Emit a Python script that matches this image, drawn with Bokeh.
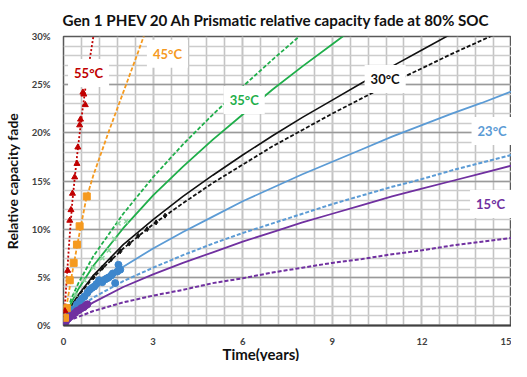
from bokeh.plotting import figure
from bokeh.models import FixedTicker, PrintfTickFormatter, Label, Title
from bokeh.embed import file_html
from bokeh.resources import INLINE

# ---- data (time in years, fade in %) ----
t_model = [0, 0.25, 0.5, 1, 2, 3, 4, 5, 6, 7, 8, 9, 10, 11, 12, 13, 14, 15]

black_solid = [0, 2.0, 3.2, 5.2, 8.4, 11.0, 13.4, 15.6, 17.7, 19.7, 21.6, 23.4, 25.2, 26.9, 28.6, 30.3, 31.9, 33.5]
black_dash = [0, 1.9, 3.1, 5.0, 8.0, 10.5, 12.7, 14.8, 16.7, 18.6, 20.3, 22.0, 23.6, 25.2, 26.7, 28.2, 29.6, 31.0]
blue_solid = [0, 1.5, 2.3, 3.8, 6.1, 8.0, 9.7, 11.3, 12.9, 14.3, 15.7, 17.0, 18.3, 19.6, 20.8, 22.0, 23.1, 24.3]
blue_dash = [0, 1.1, 1.8, 2.9, 4.6, 6.0, 7.3, 8.5, 9.6, 10.6, 11.6, 12.6, 13.5, 14.4, 15.2, 16.1, 16.9, 17.7]
purple_solid = [0, 0.9, 1.5, 2.4, 4.0, 5.3, 6.5, 7.6, 8.7, 9.7, 10.7, 11.6, 12.5, 13.4, 14.2, 15.0, 15.8, 16.6]
purple_dash = [0, 0.6, 0.9, 1.5, 2.4, 3.1, 3.7, 4.4, 4.9, 5.5, 6.0, 6.5, 6.9, 7.4, 7.8, 8.3, 8.7, 9.1]

t_green = [0, 0.25, 0.5, 1, 2, 3, 4, 5, 6, 7, 8, 9, 10]
green_solid = [0, 2.3, 3.8, 6.2, 10.1, 13.5, 16.5, 19.3, 21.9, 24.5, 26.9, 29.2, 31.5]
green_dash = [0, 2.7, 4.4, 7.2, 11.6, 15.4, 18.8, 21.9, 24.8, 27.6, 30.3, 32.9, 35.4]

t_orange = [0, 0.1, 0.3, 0.5, 0.75, 1.0, 1.5, 2.0, 2.5, 2.8]
orange_line = [0, 2.0, 5.6, 9.0, 13.0, 15.6, 20.0, 24.2, 28.4, 31.0]

t_red = [0, 0.1, 0.2, 0.3, 0.45, 0.6, 0.78, 1.0, 1.05]
red_line = [0, 4.5, 9.0, 13.0, 17.5, 21.5, 25.7, 30.0, 31.0]

# measured points
red_pts_t = [0.05, 0.14, 0.21, 0.25, 0.30, 0.375, 0.45, 0.48, 0.54, 0.57, 0.65, 0.68, 0.73]
red_pts_y = [1.5, 5.7, 10.9, 12.0, 13.7, 15.4, 16.8, 18.5, 20.8, 21.4, 24.2, 24.0, 22.9]

orange_pts_t = [0.05, 0.11, 0.21, 0.34, 0.45, 0.54, 0.78]
orange_pts_y = [0.8, 1.8, 4.7, 6.5, 8.4, 10.3, 13.4]

green_pts_t = [0.2, 0.4, 0.7, 1.0, 1.3, 1.52, 1.7, 1.84, 2.1]
green_pts_y = [1.8, 3.2, 4.7, 6.0, 7.0, 7.8, 9.0, 10.6, 10.8]

black_pts_t = [1.0, 1.3, 1.6, 1.9, 2.2, 2.5, 2.8, 3.1, 3.4]
black_pts_y = [5.0, 6.0, 6.9, 7.7, 8.5, 9.3, 10.0, 10.7, 11.4]

blue_pts_t = [0.05, 0.1, 0.2, 0.32, 0.45, 0.54, 0.62, 0.7, 0.8, 0.87, 0.95, 1.03, 1.1, 1.19,
              1.3, 1.4, 1.46, 1.52, 1.6, 1.65, 1.73, 1.8, 1.84, 1.9]
blue_pts_y = [0.3, 0.6, 1.1, 1.65, 2.2, 2.5, 2.8, 3.0, 3.4, 3.7, 3.9, 4.05, 4.3, 4.7,
              4.5, 4.8, 4.9, 5.0, 5.2, 5.4, 4.4, 5.6, 6.3, 5.8]

purple_pts_t = [0.02, 0.08, 0.15, 0.22, 0.3, 0.38, 0.45, 0.52, 0.6, 0.68, 0.75, 0.8]
purple_pts_y = [0.1, 0.4, 0.7, 0.9, 1.1, 1.3, 1.5, 1.6, 1.8, 1.9, 2.1, 2.2]

x_ticks = [0, 3, 6, 9, 12, 15]
x_minor = [round(0.6 * k, 2) for k in range(26)]
y_ticks = [0, 5, 10, 15, 20, 25, 30]
y_minor = list(range(31))

title_text = "Gen 1 PHEV 20 Ah Prismatic relative capacity fade at 80% SOC"
x_label = "Time(years)"
y_label = "Relative capacity fade"
labels = ["55°C", "45°C", "35°C", "30°C", "23°C", "15°C"]

RED = "#c00000"
ORANGE = "#f59a1f"
GREEN = "#1fae4a"
LGREEN = "#8fd6a0"
BLACK = "#111111"
BLUE = "#5b9bd5"
BLUE_PT = "#3d86cc"
PURPLE = "#7030a0"
FONT = "Lato"

p = figure(width=511, height=361, x_range=(0, 15), y_range=(0, 30),
           output_backend="svg", toolbar_location=None,
           min_border_left=55, min_border_right=0, min_border_top=10, min_border_bottom=0)
p.background_fill_color = "white"
p.border_fill_color = "white"
p.outline_line_color = "#595959"
p.outline_line_width = 1.5

# title
p.title.text = title_text
p.title.align = "left"
p.title.offset = -1
p.title.text_font = FONT
p.title.text_font_style = "bold"
p.title.text_font_size = "15.2px"
p.title.text_color = "#111111"
p.title.standoff = 16

# x-axis label as a title below the axis, shifted left like the reference
p.add_layout(Title(text=x_label, align="left", vertical_align="top", offset=159, text_font=FONT,
                   text_font_style="bold", text_font_size="15px", text_color="#111111",
                   standoff=-6), "below")

# axes
p.xaxis.ticker = FixedTicker(ticks=x_ticks, minor_ticks=x_minor)
p.yaxis.ticker = FixedTicker(ticks=y_ticks, minor_ticks=y_minor)
p.yaxis.formatter = PrintfTickFormatter(format="%d%%")
for ax in (p.xaxis, p.yaxis):
    ax.major_tick_line_color = None
    ax.minor_tick_line_color = None
    ax.major_label_text_font = FONT
    ax.major_label_text_font_size = "9.5px"
    ax.major_label_text_color = "#404040"
    ax.major_label_text_font_style = "bold"
p.yaxis.axis_line_color = None
p.xaxis.axis_line_color = "#404040"
p.xaxis.axis_line_width = 2
p.yaxis.major_label_standoff = 7
p.xaxis.major_label_standoff = 6
p.yaxis.axis_label = y_label
p.yaxis.axis_label_text_font = FONT
p.yaxis.axis_label_text_font_style = "bold"
p.yaxis.axis_label_text_font_size = "14px"
p.yaxis.axis_label_text_color = "#111111"
p.yaxis.axis_label_standoff = 8

# grid
p.xgrid.ticker = FixedTicker(ticks=x_ticks, minor_ticks=x_minor)
p.ygrid.ticker = FixedTicker(ticks=y_ticks, minor_ticks=y_minor)
p.xgrid.grid_line_color = "#c4c4c4"
p.xgrid.grid_line_width = 1.6
p.xgrid.minor_grid_line_color = "#c4c4c4"
p.xgrid.minor_grid_line_width = 1.6
p.ygrid.grid_line_color = "#9a9a9a"
p.ygrid.grid_line_width = 1.6
p.ygrid.minor_grid_line_color = "#cccccc"
p.ygrid.minor_grid_line_width = 1.6

# model lines
p.line(t_model, purple_dash, line_color=PURPLE, line_width=2, line_dash="4 2")
p.line(t_model, purple_solid, line_color=PURPLE, line_width=1.8)
p.line(t_model, blue_dash, line_color=BLUE, line_width=2, line_dash="4 2")
p.line(t_model, blue_solid, line_color=BLUE, line_width=1.8)
p.line(t_model, black_dash, line_color=BLACK, line_width=1.8, line_dash="4 2")
p.line(t_model, black_solid, line_color=BLACK, line_width=1.6)
p.line(t_green, green_dash, line_color=GREEN, line_width=1.8, line_dash="4 2")
p.line(t_green, green_solid, line_color=GREEN, line_width=1.8)
p.line(t_orange, orange_line, line_color=ORANGE, line_width=1.8, line_dash="4 2")
p.line(t_red, red_line, line_color=RED, line_width=1.8, line_dash="2 2")

# measured points
p.scatter(green_pts_t, green_pts_y, marker="x", size=6, line_color=LGREEN, line_width=1.5)
p.scatter(black_pts_t, black_pts_y, marker="diamond", size=5, fill_color=BLACK, line_color=BLACK)
p.scatter(blue_pts_t, blue_pts_y, marker="circle", size=7, fill_color=BLUE_PT, line_color=BLUE_PT)
p.scatter(purple_pts_t, purple_pts_y, marker="circle", size=7, fill_color=PURPLE, line_color=PURPLE)
p.scatter(orange_pts_t, orange_pts_y, marker="square", size=7, fill_color=ORANGE, line_color=ORANGE)
p.scatter(red_pts_t, red_pts_y, marker="triangle", size=6, fill_color=RED, line_color=RED)

# in-plot temperature labels (white boxes)
label_pos = [(0.84, 26.2), (3.48, 28.2), (6.05, 23.4), (10.77, 25.6), (14.35, 20.2), (14.3, 12.6)]
label_col = [RED, ORANGE, GREEN, BLACK, BLUE, PURPLE]
for txt, (lx, ly), col in zip(labels, label_pos, label_col):
    p.add_layout(Label(x=lx, y=ly, text=txt, text_align="center", text_baseline="middle",
                       text_font=FONT, text_font_style="bold", text_font_size="13px", text_color=col,
                       background_fill_color="white", background_fill_alpha=1.0, padding=6))

open("out.html", "w").write(file_html(p, INLINE))
